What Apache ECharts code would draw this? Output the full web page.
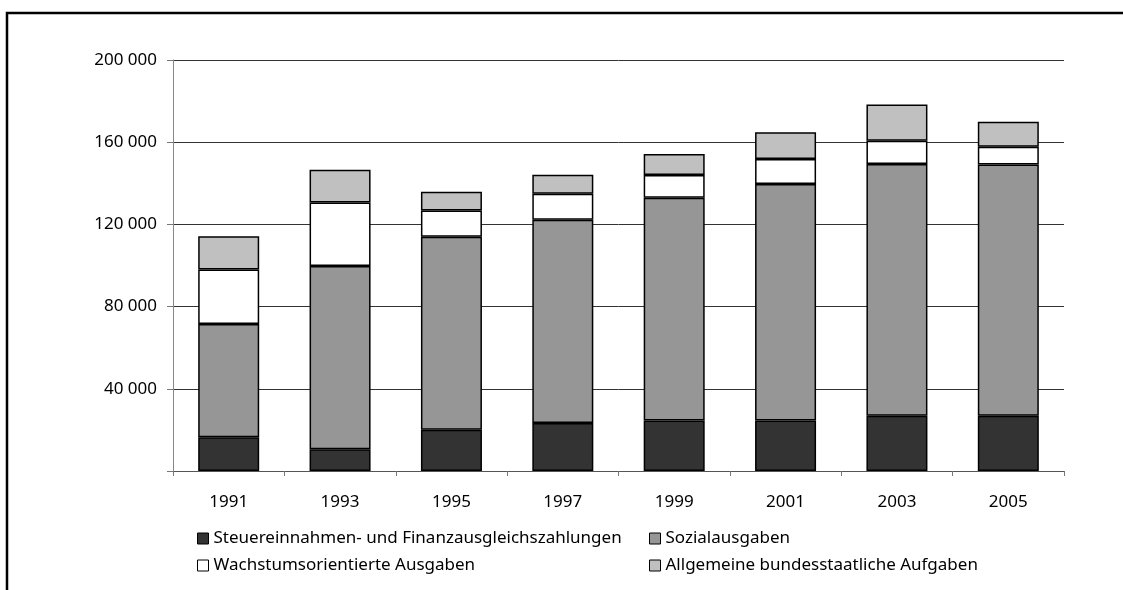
<!DOCTYPE html>
<html>

<head>
    <meta charset="utf-8">
    <title>Ausgaben 1991-2005</title>
    <script src="https://cdn.jsdelivr.net/npm/echarts@6/dist/echarts.min.js"></script>
    <style>
        body { margin: 0; background: #fff; }
    </style>
</head>

<body>
    <div id="main" style="width: 1123px;height:590px;"></div>
    <script>
        // Daten
        var jahre = ['1991', '1993', '1995', '1997', '1999', '2001', '2003', '2005'];
        var steuer = [16400, 10600, 20100, 23400, 24600, 24600, 26900, 26900];
        var sozial = [55100, 89200, 93900, 98900, 108400, 115100, 122500, 122300];
        var wachstum = [26500, 30800, 12800, 12600, 11000, 12100, 11300, 8600];
        var allgemein = [16200, 16000, 9100, 9300, 10300, 13000, 17700, 12200];
        var yTicks = [0, 40000, 80000, 120000, 160000, 200000];

        var namen = ['Steuereinnahmen- und Finanzausgleichszahlungen', 'Sozialausgaben',
            'Wachstumsorientierte Ausgaben', 'Allgemeine bundesstaatliche Aufgaben'];
        var farben = ['#333333', '#969696', '#ffffff', '#c0c0c0'];
        var werte = [steuer, sozial, wachstum, allgemein];

        var FONT = 'Noto Sans';
        var FS = 17;
        var myChart = echarts.init(document.getElementById('main'));

        // Legende: 2 Spalten, je ein Eintrag pro Komponente
        var legPos = [[197, 530], [649, 530], [197, 557], [649, 557]];
        var legends = namen.map(function (n, i) {
            return {
                data: [n],
                left: legPos[i][0],
                top: legPos[i][1],
                padding: 0,
                itemWidth: 11,
                itemHeight: 11,
                icon: 'rect',
                itemStyle: { borderColor: '#000', borderWidth: 1 },
                textStyle: { fontFamily: FONT, fontSize: FS, color: '#000' }
            };
        });

        var option = {
            animation: false,
            backgroundColor: '#fff',
            graphic: [{
                type: 'polyline',
                shape: { points: [[7, 600], [7, 13], [1130, 13]] },
                style: { stroke: '#000', lineWidth: 2.5, fill: null }
            }],
            legend: legends,
            grid: { left: 173, right: 59, top: 60, bottom: 119 },
            xAxis: {
                type: 'category',
                data: jahre,
                axisLine: { lineStyle: { color: '#555', width: 1 } },
                axisTick: { show: true, length: 5, lineStyle: { color: '#777' } },
                axisLabel: { fontFamily: FONT, fontSize: FS, color: '#000', margin: 23 }
            },
            yAxis: {
                type: 'value',
                min: yTicks[0],
                max: yTicks[yTicks.length - 1],
                interval: 40000,
                axisLine: { show: true, lineStyle: { color: '#888', width: 1 } },
                axisTick: { show: true, length: 6, lineStyle: { color: '#777' } },
                splitLine: { show: true, lineStyle: { color: '#333', width: 1 } },
                axisLabel: {
                    fontFamily: FONT, fontSize: FS, color: '#000', margin: 16,
                    formatter: function (v) {
                        if (v === 0) return '';
                        return String(v).replace(/\B(?=(\d{3})+(?!\d))/g, ' ');
                    }
                }
            },
            series: namen.map(function (n, i) {
                return {
                    name: n,
                    type: 'bar',
                    stack: 'gesamt',
                    barWidth: 61,
                    data: werte[i],
                    itemStyle: { color: farben[i], borderColor: '#000', borderWidth: 1.5 }
                };
            })
        };

        myChart.setOption(option);
    </script>
</body>

</html>
